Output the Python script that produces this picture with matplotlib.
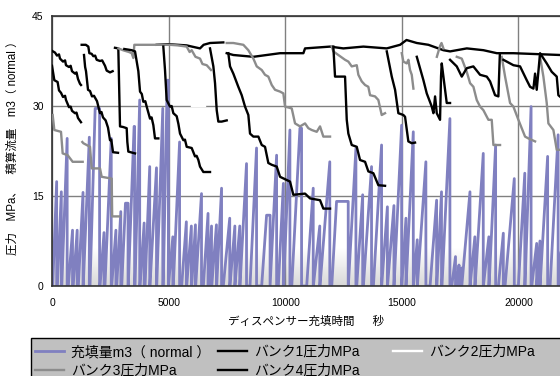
"""Dispenser fill volume and bank pressures over time"""
import numpy as np
import matplotlib
matplotlib.use("Agg")
import matplotlib.pyplot as plt
from matplotlib.patches import Rectangle
from matplotlib.colors import LinearSegmentedColormap

plt.rcParams['font.family'] = ['Liberation Sans', 'Noto Sans CJK JP', 'DejaVu Sans']

# fill events: start time, time the peak is reached, time of the drop, peak volume (m3 normal)
fill_start = [30, 230, 420, 700, 910, 1130, 1340, 1630, 2060, 2270, 2560, 2775, 2990, 3270,
              3560, 3775, 3990, 4200, 4490, 4770, 4990, 5200, 5560, 5775, 5990, 6160, 6490,
              6700, 6850, 7060, 7345, 7630, 7845, 8060, 8490, 8990, 9350, 9705, 9930, 10280,
              10920, 11205, 11490, 11995, 12705, 13065, 13350, 13780, 14135, 14385, 14665,
              14995, 15180, 15495, 15665, 16210, 16500, 16720, 17140, 17355, 17460, 17570,
              17925, 18140, 18495, 18740, 19140, 19425, 19995, 20280, 20570, 20785, 20925,
              21355, 21720]
fill_top = [200, 400, 650, 880, 1080, 1330, 1600, 1850, 2230, 2540, 2740, 2950, 3150, 3520,
            3760, 3950, 4190, 4480, 4750, 4940, 5180, 5470, 5760, 5975, 6150, 6410, 6690,
            6840, 7050, 7270, 7620, 7840, 8050, 8340, 8770, 9200, 9630, 9920, 10200, 10630,
            11200, 11480, 11910, 12200, 13030, 13320, 13700, 14130, 14380, 14660, 14990,
            15175, 15490, 15660, 16030, 16490, 16700, 17060, 17300, 17450, 17560, 17920,
            18130, 18490, 18730, 19020, 19350, 19820, 20270, 20540, 20780, 20920, 21250,
            21700, 22000]
fill_end = [200, 400, 650, 880, 1080, 1330, 1600, 2040, 2230, 2540, 2740, 2950, 3260, 3540,
            3760, 3950, 4190, 4480, 4750, 4990, 5180, 5470, 5760, 5975, 6150, 6410, 6690,
            6840, 7050, 7270, 7620, 7840, 8050, 8340, 8770, 9350, 9630, 9920, 10200, 10700,
            11200, 11480, 11910, 12700, 13030, 13320, 13700, 14130, 14380, 14660, 14990,
            15175, 15490, 15660, 16030, 16490, 16700, 17060, 17300, 17450, 17560, 17920,
            18130, 18490, 18730, 19020, 19350, 19820, 20270, 20540, 20780, 20920, 21250,
            21700, 22000]
fill_peak = [17.4, 15.7, 24.6, 9.3, 9.3, 15.6, 24.8, 29.6, 8.9, 24.6, 9.3, 12.4, 13.8, 26.6,
             31.0, 10.5, 19.9, 19.7, 29.6, 34.3, 8.2, 24.0, 10.7, 10.0, 10.2, 15.4, 12.1,
             10.0, 10.2, 16.3, 11.3, 10.0, 10.0, 20.4, 23.0, 11.8, 21.8, 17.1, 26.0, 26.3,
             16.3, 10.0, 20.7, 14.1, 22.9, 15.2, 19.9, 23.5, 13.2, 13.4, 26.8,
             11.3, 25.7, 7.7, 20.7, 14.3, 15.7, 27.9, 4.9, 3.5, 3.0, 15.7,
             8.2, 22.1, 8.2, 23.5, 8.8, 17.9, 18.8, 29.9, 7.1, 7.5, 21.6,
             25.2, 15.0]

# bank pressures (MPa), each list is one recorded stretch (time s, pressure)
bank1_segments = [
    [(0, 39.2), (130, 38.9), (214, 38.4), (300, 38.6), (343, 37.9), (472, 37.4), (560, 37.6),
     (600, 36.8), (729, 36.5), (800, 36.7), (857, 35.8), (986, 35.4), (1050, 35.6),
     (1115, 34.5), (1200, 33.7), (1243, 33.5)],
    [(1272, 40.2), (1450, 40.2), (1558, 39.9), (1601, 38.8), (1700, 38.7), (1772, 38.3),
     (1850, 38.4), (1915, 37.7), (2058, 37.5), (2150, 37.6), (2273, 36.7), (2344, 35.9),
     (2487, 35.6), (2600, 35.8)],
    [(2700, 39.7), (2843, 39.6), (2880, 33.0), (2916, 26.6), (3050, 26.5), (3202, 26.3),
     (3230, 24.0), (3272, 22.4), (3559, 22.1)],
    [(4488, 40.2), (5000, 40.3), (5775, 40.1), (6000, 39.9), (6346, 39.6), (6500, 40.2),
     (6775, 40.5), (7345, 40.6)],
    [(6775, 39.6), (6918, 36.6), (6990, 33.8), (7062, 29.3), (7131, 27.4), (7276, 27.4),
     (7490, 27.6)],
    [(7490, 38.8), (7775, 38.5), (8633, 38.2), (9777, 38.8), (10778, 38.8), (10849, 39.6),
     (11921, 39.9), (12492, 39.6), (13350, 39.9), (14353, 39.6), (14924, 40.2),
     (15200, 41.0), (15640, 40.5), (16138, 40.2), (16781, 39.3), (17068, 39.1),
     (17784, 39.6), (18496, 39.3), (19071, 38.8), (19782, 38.8), (21797, 38.5)],
]
bank2_segments = [
    [(6000, 30.0), (6560, 30.0)],
]
bank3_segments = [
    [(29, 28.5), (100, 26.0), (386, 25.7), (457, 22.1), (672, 21.8), (886, 20.7), (1315, 20.7)],
    [(1300, 24.0), (1342, 23.8), (1629, 23.2), (1701, 19.6), (2058, 19.6), (2130, 18.2),
     (2560, 17.9), (2580, 11.6), (2916, 11.6)],
    [(2850, 39.6), (3044, 39.3), (3300, 39.0), (3417, 38.8), (3487, 38.0), (3530, 40.2),
     (4488, 40.2), (5059, 40.2), (5400, 40.1), (5775, 39.9), (5900, 39.0), (5989, 39.3),
     (6150, 38.2), (6346, 37.9), (6450, 37.0), (6633, 36.8), (6818, 36.0)],
    [(7490, 40.5), (7775, 40.5), (8204, 40.2), (8418, 39.3), (8633, 37.9), (8778, 36.6),
     (8992, 36.0), (9133, 35.2), (9275, 34.9), (9421, 33.5), (9562, 32.7), (9777, 32.4),
     (9919, 32.1), (9991, 29.9), (10278, 29.6), (10420, 27.1), (10634, 26.6), (10849, 27.1),
     (10991, 26.3), (11135, 26.0), (11350, 25.7), (11492, 26.6), (11633, 24.9), (11921, 24.9)],
    [(11993, 39.9), (12062, 39.1), (12564, 37.7), (12706, 37.4), (12851, 36.6), (13066, 36.8),
     (13135, 35.2), (13280, 34.1), (13422, 33.5), (13563, 33.2), (13636, 31.8), (13850, 31.6),
     (13992, 31.0), (14136, 28.5), (14279, 28.8)],
    [(14995, 38.8), (15065, 37.4), (15209, 37.1), (15280, 37.7), (15351, 36.0), (15424, 35.2),
     (15495, 32.9)],
    [(16500, 38.2), (16637, 40.0), (16700, 40.5), (16781, 39.6)],
    [(17354, 38.2), (17568, 37.9), (17782, 35.7), (17925, 33.8), (18068, 33.2), (18210, 31.0),
     (18353, 29.9), (18496, 29.3), (18710, 27.7), (18853, 27.7), (18925, 23.5), (19210, 23.5)],
    [(19282, 38.2), (19425, 34.9), (19639, 30.5), (19782, 29.9), (19996, 27.7), (20282, 24.9),
     (20425, 24.6), (20711, 24.1)],
    [(20925, 38.2), (21068, 34.9), (21211, 30.5), (21282, 27.1), (21497, 26.0), (21640, 22.7),
     (21783, 22.7)],
]
bank4_segments = [
    [(0, 36.7), (60, 35.2), (100, 34.3), (240, 34.0), (300, 32.6), (386, 32.2), (472, 31.5),
     (560, 31.7), (600, 31.0), (729, 29.8), (800, 29.9), (857, 29.2), (986, 28.8),
     (1050, 28.9), (1115, 28.0), (1243, 27.3)],
    [(1372, 38.5), (1420, 36.5), (1458, 35.8), (1544, 32.7), (1630, 32.5), (1715, 31.6),
     (1800, 31.7), (1930, 30.8), (2058, 28.8), (2120, 29.0), (2187, 28.1), (2300, 27.6),
     (2401, 26.4), (2487, 24.3), (2540, 24.4), (2616, 22.3), (2830, 22.2)],
    [(3100, 39.5), (3417, 39.3), (3559, 39.1), (3630, 37.5), (3702, 35.8), (3774, 32.4),
     (3850, 32.0), (3916, 30.7), (4000, 30.8), (4059, 29.9), (4202, 27.9), (4270, 28.1),
     (4345, 26.8), (4416, 24.6), (4559, 24.6)],
    [(4773, 39.9), (4845, 36.0), (4916, 31.0), (5059, 29.9), (5130, 30.0), (5202, 28.8),
     (5346, 28.3), (5420, 27.0), (5489, 25.4), (5632, 24.3), (5700, 24.4), (5775, 23.2),
     (5989, 23.0), (6132, 21.6), (6200, 21.7), (6275, 21.0), (6346, 19.9), (6489, 19.0),
     (6775, 19.0)],
    [(7560, 38.8), (7633, 36.6), (7774, 35.4), (7988, 33.2), (8134, 31.8), (8276, 29.9),
     (8418, 28.5), (8490, 25.4), (8633, 24.9), (8848, 24.9), (8992, 23.5), (9133, 23.2),
     (9275, 20.5), (9421, 20.2), (9635, 19.9), (9777, 18.2), (10205, 17.4), (10347, 15.2),
     (10849, 15.4), (11063, 14.6), (11492, 14.3), (11633, 12.9), (11921, 12.9)],
    [(12062, 39.9), (12135, 34.9), (12564, 34.9), (12637, 27.7), (12706, 25.4), (12851, 23.5),
     (13066, 23.2), (13207, 21.0), (13422, 20.7), (13563, 19.1), (13778, 18.8), (13992, 16.8),
     (14279, 16.7)],
    [(14353, 39.1), (14567, 34.9), (14709, 32.7), (14850, 28.8), (15065, 28.5), (15137, 28.2),
     (15278, 24.1), (15424, 23.8), (15565, 23.9)],
    [(15640, 38.2), (15924, 34.3), (16067, 32.1), (16282, 29.9), (16353, 28.8), (16424, 31.6),
     (16496, 28.8), (16637, 27.7), (16680, 35.0), (16710, 37.1), (16781, 34.9), (16924, 30.5),
     (17066, 30.5)],
    [(17066, 37.7), (17354, 36.6), (17568, 34.9), (17782, 36.3), (18065, 36.6), (18353, 35.2),
     (18640, 34.9), (18782, 34.1), (18996, 31.8), (19138, 31.6), (19200, 38.5)],
    [(19353, 37.7), (19782, 36.8), (20068, 36.6), (20354, 34.3), (20497, 33.2), (20640, 32.9),
     (20711, 35.4), (20782, 32.7), (20925, 38.8), (21211, 37.1), (21425, 35.7), (21640, 34.9),
     (21710, 31.8), (21800, 31.5)],
]

x_ticks = [0, 5000, 10000, 15000, 20000]
y_ticks = [0, 15, 30, 45]


def fill_curve(starts, tops, ends, peaks):
    """Sawtooth line: rise from 0 to the peak, hold, drop back to 0"""
    xs, ys = [], []
    for s, t, e, p in zip(starts, tops, ends, peaks):
        xs += [s, t, e, e]
        ys += [0, p, p, 0]
    return xs, ys


def join_segments(segments):
    """Join recorded stretches into one line with gaps between them"""
    xs, ys = [], []
    for seg in segments:
        xs += [pt[0] for pt in seg] + [np.nan]
        ys += [pt[1] for pt in seg] + [np.nan]
    return xs, ys


fig = plt.figure(figsize=(5.6, 3.76), dpi=100)
ax = fig.add_axes([52 / 560, 90 / 376, 1 - 52 / 560, 270 / 376])

# faint shading at the bottom of the plot area
shade = LinearSegmentedColormap.from_list('shade', ['#d8d8d8', '#ffffff'])
ax.imshow(np.linspace(0, 1, 50).reshape(-1, 1), cmap=shade, aspect='auto',
          extent=(0, 1, 0, 0.14), transform=ax.transAxes, origin='lower', zorder=0)

fx, fy = fill_curve(fill_start, fill_top, fill_end, fill_peak)
h_fill, = ax.plot(fx, fy, color='#8080c0', lw=2.0, label='充填量m3（ normal ）', zorder=2)
bx, by = join_segments(bank1_segments)
h_b1, = ax.plot(bx, by, color='black', lw=1.7, label='バンク1圧力MPa', zorder=3)
bx, by = join_segments(bank2_segments)
h_b2, = ax.plot(bx, by, color='white', lw=1.7, label='バンク2圧力MPa', zorder=3)
bx, by = join_segments(bank3_segments)
h_b3, = ax.plot(bx, by, color='#8c8c8c', lw=1.7, label='バンク3圧力MPa', zorder=3)
bx, by = join_segments(bank4_segments)
h_b4, = ax.plot(bx, by, color='black', lw=1.7, label='バンク4圧力MPa', zorder=3)

ax.set_xlim(0, 21780)
ax.set_ylim(0, 45)
ax.set_xticks(x_ticks)
ax.set_yticks(y_ticks)
ax.tick_params(axis='both', length=0, labelsize=7.5)
ax.tick_params(axis='x', pad=9)
ax.tick_params(axis='y', pad=6)
ax.grid(True, color='#808080', lw=1)
ax.set_axisbelow(True)
for side in ['top', 'left', 'bottom']:
    ax.spines[side].set_color('#333333')
    ax.spines[side].set_linewidth(1.2)
ax.spines['right'].set_visible(False)

ax.set_xlabel('ディスペンサー充填時間　  秒', fontsize=8.3)
ax.xaxis.set_label_coords(0.5, -0.112)
ax.set_ylabel('圧力　MPa、　積算流量　m3（ normal ）', fontsize=8.3)
ax.yaxis.set_label_coords(-33 / 508, 0.52)

# grey legend box, cut by the figure edge like the original
fig.patches.append(Rectangle((31 / 560, -0.05), 1.0, (376 - 338) / 376 + 0.05,
                             transform=fig.transFigure, facecolor='#c0c0c0',
                             edgecolor='black', lw=1, zorder=0))
legend_cols = [([h_fill, h_b3], 35), ([h_b1, h_b4], 218), ([h_b2], 393)]
for col_handles, x_px in legend_cols:
    fig.legend(col_handles, [h.get_label() for h in col_handles], loc='upper left',
               bbox_to_anchor=(x_px / 560, (376 - 345) / 376), frameon=False,
               fontsize=10, handlelength=2.1, handletextpad=0.5,
               borderpad=0, borderaxespad=0, labelspacing=0.32)

fig.savefig('out.png', dpi=100)
